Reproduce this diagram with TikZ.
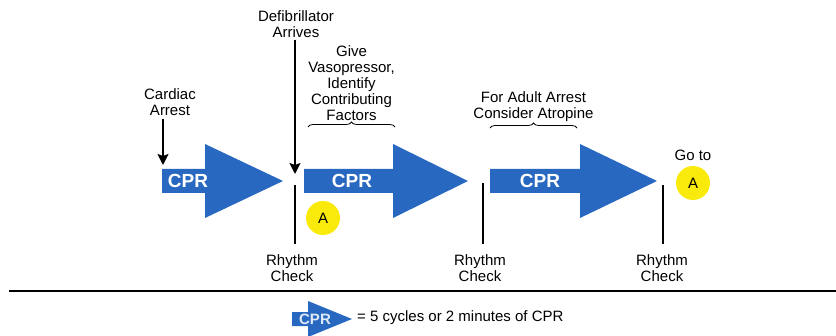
\documentclass[tikz,border=0pt]{standalone}
\usepackage{fontspec}
\setmainfont{Liberation Sans}
\usepackage{xcolor}
\usepackage{tikz}
\usetikzlibrary{positioning}
\usetikzlibrary{calc}
\usetikzlibrary{arrows.meta}
\usetikzlibrary{decorations.pathreplacing}

\definecolor{cprblue}{RGB}{40,104,192}
\definecolor{goyellow}{RGB}{250,234,12}

\tikzset{
  lbl/.style={align=center, inner sep=0pt, font=\fontsize{15}{16}\selectfont},
  cprtext/.style={inner sep=0pt, text=white, font=\fontsize{19}{19}\selectfont\bfseries},
  cprfill/.style={fill=cprblue},
  checkline/.style={line width=2.6pt},
  eventarrow/.style={line width=1.6pt, -{Stealth[width=11pt,length=11pt,inset=2pt]}},
  stepbrace/.style={decorate, decoration={brace, amplitude=5pt}, line width=0.8pt},
  gocircle/.style={circle, fill=goyellow, minimum size=34pt, inner sep=0pt, font=\fontsize{15}{15}\selectfont}
}

\begin{document}
\begin{tikzpicture}[x=1pt, y=1pt]
\useasboundingbox (0,0) rectangle (836,335);

% CPR blocks
\fill[cprfill] (162,142) -- (205,142) -- (205,117) -- (283,154) -- (205,191) -- (205,166) -- (162,166) -- cycle;
\fill[cprfill] (304,142) -- (393,142) -- (393,117) -- (468,154) -- (393,191) -- (393,166) -- (304,166) -- cycle;
\fill[cprfill] (490,142) -- (580,142) -- (580,117) -- (657,154) -- (580,191) -- (580,166) -- (490,166) -- cycle;
\node (cpr1) [cprtext] at (188,154) {CPR};
\node (cpr2) [cprtext] at (352,154) {CPR};
\node (cpr3) [cprtext] at (540,154) {CPR};

% events
\node (cardiac) [lbl] at (170,233) {Cardiac\\Arrest};
\coordinate (catip) at (163,170);
\draw[eventarrow] (cardiac.south -| catip) ++(0,-3) -- (catip);

\node (defib) [lbl] at (296,311) {Defibrillator\\Arrives};
\coordinate (dftip) at (295,161);
\draw[eventarrow] (defib.south -| dftip) ++(0,-2) -- (dftip);

% rhythm checks
\coordinate (rc1) at (295,150);
\coordinate (rc2) at (483,152);
\coordinate (rc3) at (663,150);
\foreach \i/\x in {1/292, 2/480, 3/662} {
  \node (check\i) [lbl] at (\x,67) {Rhythm\\Check};
  \draw[checkline] (rc\i) -- (rc\i |- 0,91);
}

% drugs
\coordinate (b1l) at (308,208);
\coordinate (b1r) at (395,208);
\draw[stepbrace] (b1l) -- (b1r);
\node (vaso) [lbl, above=6pt of $(b1l)!.5!(b1r)$] {Give\\Vasopressor,\\Identify\\Contributing\\Factors};

\coordinate (b2l) at (490,207);
\coordinate (b2r) at (577,207);
\draw[stepbrace] (b2l) -- (b2r);
\node (atro) [lbl, above=6pt of $(b2l)!.5!(b2r)$] {For Adult Arrest\\Consider Atropine};

% go to A
\node (a1) [gocircle] at (323,117) {A};
\node (a2) [gocircle] at (693,152) {A};
\node (goto) [lbl, above=5pt of a2] {Go to};

% legend
\coordinate (ll) at (9,44);
\coordinate (lr) at (836,44);
\draw[line width=2.4pt] (ll) -- (lr);
\fill[cprfill] (292,9) -- (308,9) -- (308,-2) -- (352,16) -- (308,34) -- (308,23) -- (292,23) -- cycle;
\node (cprkey) [cprtext, text=white!85!cprblue, font=\fontsize{15}{15}\selectfont\bfseries] at (315,16) {CPR};
\node (keytext) [lbl, anchor=west] at (357,17) {= 5 cycles or 2 minutes of CPR};
\end{tikzpicture}
\end{document}
